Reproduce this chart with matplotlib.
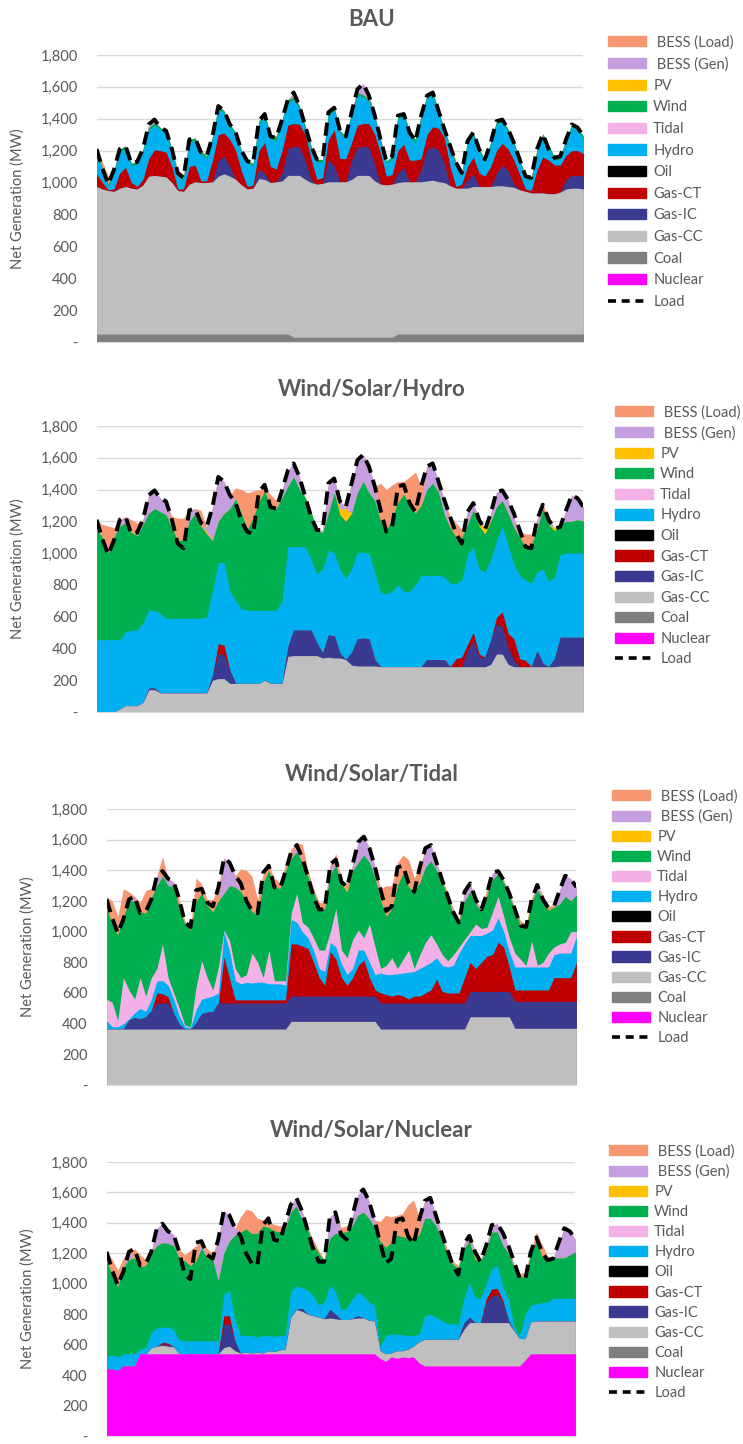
import numpy as np
import matplotlib
matplotlib.use("Agg")
import matplotlib.pyplot as plt
from matplotlib.patches import Patch
from matplotlib.lines import Line2D
from matplotlib.ticker import FuncFormatter

plt.rcParams['font.family'] = ['Lato', 'DejaVu Sans']

# hour of the two-week window, one value every 4 hours
HOURS = list(range(0, 337, 4))

LOAD = [1210, 1090, 990, 1080, 1210, 1230, 1120, 1130, 1210, 1365,
        1395, 1345, 1325, 1210, 1060, 1030, 1270, 1280, 1190, 1165,
        1290, 1480, 1450, 1365, 1315, 1200, 1135, 1120, 1385, 1430,
        1290, 1280, 1395, 1520, 1565, 1480, 1355, 1230, 1145, 1145,
        1440, 1470, 1325, 1290, 1440, 1585, 1620, 1545, 1420, 1270,
        1135, 1165, 1420, 1430, 1315, 1260, 1420, 1545, 1565, 1450,
        1335, 1230, 1125, 1060, 1260, 1315, 1210, 1145, 1250, 1385,
        1395, 1335, 1250, 1145, 1040, 1030, 1210, 1305, 1210, 1155,
        1165, 1270, 1365, 1345, 1290]

# ---------------- BAU ----------------
BAU_COAL = [50, 50, 50, 50, 50, 50, 50, 50, 50, 50,
            50, 50, 50, 50, 50, 50, 50, 50, 50, 50,
            50, 50, 50, 50, 50, 50, 50, 50, 50, 50,
            50, 50, 50, 50, 30, 30, 30, 30, 30, 30,
            30, 30, 30, 30, 30, 30, 30, 30, 30, 30,
            30, 30, 50, 50, 50, 50, 50, 50, 50, 50,
            50, 50, 50, 50, 50, 50, 50, 50, 50, 50,
            50, 50, 50, 50, 50, 50, 50, 50, 50, 50,
            50, 50, 50, 50, 50]
BAU_GAS_CC = [925, 910, 900, 895, 915, 925, 915, 910, 935, 990,
              995, 990, 985, 950, 900, 895, 940, 955, 950, 950,
              955, 990, 1005, 990, 970, 935, 910, 915, 975, 970,
              950, 955, 960, 995, 1015, 1015, 990, 970, 960, 965,
              975, 975, 975, 975, 990, 1015, 1015, 1015, 980, 960,
              955, 960, 950, 955, 955, 955, 955, 960, 965, 955,
              950, 930, 915, 915, 915, 925, 925, 925, 925, 930,
              930, 925, 920, 905, 895, 885, 885, 885, 880, 880,
              890, 910, 915, 915, 910]
BAU_GAS_IC = [0, 0, 0, 0, 0, 0, 0, 0, 0, 0,
              0, 0, 0, 0, 0, 0, 0, 0, 0, 0,
              0, 100, 110, 60, 0, 0, 0, 0, 60, 40,
              0, 0, 50, 170, 180, 180, 120, 20, 0, 0,
              140, 100, 0, 0, 120, 180, 180, 180, 100, 0,
              0, 0, 60, 90, 0, 0, 80, 200, 210, 200,
              120, 0, 0, 0, 50, 80, 0, 0, 0, 80,
              130, 100, 20, 0, 0, 0, 0, 0, 0, 0,
              0, 60, 80, 80, 80]
BAU_GAS_CT = [80, 40, 5, 15, 95, 120, 35, 15, 35, 110,
              160, 160, 155, 100, 10, 15, 110, 105, 10, 10,
              135, 160, 145, 170, 180, 85, 15, 20, 115, 190,
              100, 80, 140, 145, 145, 140, 160, 130, 30, 35,
              125, 225, 145, 145, 110, 135, 145, 145, 190, 190,
              55, 60, 140, 145, 135, 135, 65, 90, 125, 135,
              160, 120, 10, 25, 85, 105, 85, 65, 125, 140,
              135, 135, 150, 95, 15, 15, 145, 225, 210, 180,
              170, 150, 155, 155, 140]
BAU_HYDRO = [140, 75, 20, 105, 135, 120, 105, 140, 175, 180,
             155, 130, 120, 95, 85, 55, 155, 155, 175, 140,
             135, 165, 125, 80, 100, 115, 145, 120, 170, 165,
             175, 180, 180, 145, 150, 100, 40, 65, 110, 100,
             155, 125, 160, 125, 175, 190, 165, 140, 105, 75,
             80, 100, 205, 175, 160, 105, 255, 230, 200, 95,
             40, 115, 135, 55, 145, 140, 135, 90, 135, 170,
             135, 110, 95, 80, 65, 65, 115, 130, 80, 30,
             40, 85, 150, 130, 95]
BAU_WIND = [15, 15, 15, 15, 15, 15, 15, 15, 15, 15,
            15, 15, 15, 15, 15, 15, 15, 15, 15, 15,
            15, 15, 15, 15, 15, 15, 15, 15, 15, 15,
            25, 25, 15, 15, 15, 15, 15, 15, 15, 15,
            15, 15, 15, 15, 15, 15, 15, 15, 15, 15,
            15, 15, 15, 15, 25, 25, 15, 15, 15, 15,
            15, 15, 15, 15, 15, 15, 15, 15, 15, 15,
            15, 15, 15, 15, 15, 15, 15, 15, 15, 15,
            15, 15, 15, 15, 15]
BAU_BESS_GEN = [0, 0, 0, 0, 0, 0, 0, 0, 0, 20,
                20, 0, 0, 0, 0, 0, 0, 0, 0, 0,
                0, 0, 0, 0, 0, 0, 0, 0, 0, 0,
                0, 0, 0, 0, 30, 0, 0, 0, 0, 0,
                0, 0, 0, 0, 0, 20, 70, 20, 0, 0,
                0, 0, 0, 0, 0, 0, 0, 0, 0, 0,
                0, 0, 0, 0, 0, 0, 0, 0, 0, 0,
                0, 0, 0, 0, 0, 0, 0, 0, 0, 0,
                0, 0, 0, 0, 0]
BAU_BESS_LOAD = [0, 40, 50, 0, 0, 0, 0, 0, 0, 0,
                 0, 0, 0, 0, 20, 20, 0, 0, 0, 0,
                 0, 0, 0, 0, 0, 0, 15, 0, 0, 0,
                 0, 0, 0, 0, 0, 0, 0, 0, 0, 0,
                 0, 0, 0, 0, 0, 0, 0, 0, 0, 0,
                 0, 0, 0, 0, 0, 0, 0, 0, 0, 0,
                 0, 0, 15, 0, 0, 0, 0, 0, 0, 0,
                 0, 0, 0, 0, 0, 0, 0, 0, 0, 0,
                 0, 0, 0, 0, 0]

# ---------------- Wind/Solar/Hydro ----------------
WSH_GAS_CC = [0, 0, 0, 0, 20, 40, 40, 40, 60, 140,
              140, 120, 120, 120, 120, 120, 120, 120, 120, 120,
              200, 210, 210, 180, 180, 180, 180, 180, 180, 200,
              180, 180, 180, 350, 355, 355, 355, 355, 355, 340,
              345, 340, 340, 330, 295, 290, 290, 290, 290, 285,
              285, 285, 285, 285, 285, 285, 285, 285, 285, 285,
              285, 285, 285, 285, 285, 285, 285, 285, 300, 365,
              365, 300, 285, 285, 285, 285, 285, 285, 285, 285,
              290, 290, 290, 290, 290]
WSH_GAS_IC = [0, 0, 0, 0, 0, 0, 0, 0, 0, 10,
              10, 0, 0, 0, 0, 0, 0, 0, 0, 0,
              30, 160, 150, 80, 0, 0, 0, 0, 0, 0,
              0, 0, 0, 60, 160, 160, 160, 160, 80, 30,
              140, 140, 30, 0, 80, 170, 175, 170, 40, 0,
              0, 0, 0, 0, 0, 0, 0, 45, 45, 45,
              45, 0, 0, 0, 100, 165, 60, 60, 150, 190,
              170, 110, 40, 0, 0, 0, 100, 20, 0, 50,
              180, 180, 180, 180, 180]
WSH_GAS_CT = [0, 0, 0, 0, 0, 0, 0, 0, 0, 0,
              0, 0, 0, 0, 0, 0, 0, 0, 0, 0,
              0, 60, 60, 0, 0, 0, 0, 0, 0, 0,
              0, 0, 0, 0, 0, 0, 0, 0, 0, 0,
              0, 0, 0, 0, 0, 0, 0, 0, 0, 0,
              0, 0, 0, 0, 0, 0, 0, 0, 0, 0,
              0, 0, 50, 60, 40, 50, 20, 0, 0, 40,
              95, 85, 135, 50, 40, 0, 0, 0, 0, 0,
              0, 0, 0, 0, 0]
WSH_HYDRO = [455, 455, 455, 455, 435, 465, 475, 475, 500, 490,
             490, 500, 470, 470, 470, 470, 470, 470, 470, 480,
             530, 510, 520, 500, 520, 470, 460, 460, 460, 440,
             460, 460, 520, 630, 525, 525, 525, 445, 435, 530,
             535, 520, 530, 510, 525, 545, 540, 540, 550, 465,
             460, 475, 515, 475, 475, 515, 575, 530, 530, 530,
             520, 525, 475, 485, 565, 540, 535, 535, 510, 485,
             535, 555, 470, 525, 505, 525, 495, 595, 535, 515,
             520, 530, 530, 530, 530]
WSH_WIND = [695, 645, 545, 645, 715, 685, 615, 595, 620, 610,
            640, 640, 650, 570, 490, 490, 610, 660, 580, 520,
            320, 260, 310, 520, 640, 600, 510, 580, 680, 750,
            660, 640, 650, 380, 440, 360, 310, 300, 270, 230,
            230, 380, 340, 360, 350, 375, 445, 380, 450, 450,
            395, 470, 520, 610, 540, 450, 440, 540, 580, 520,
            390, 350, 290, 270, 190, 230, 270, 240, 240, 210,
            165, 200, 230, 240, 210, 240, 270, 380, 360, 290,
            190, 200, 200, 210, 200]
WSH_PV = [0, 0, 0, 0, 0, 0, 0, 0, 0, 0,
          0, 0, 0, 0, 0, 0, 0, 0, 0, 15,
          0, 0, 0, 0, 0, 0, 0, 0, 0, 0,
          0, 0, 0, 0, 0, 0, 0, 0, 0, 0,
          0, 0, 40, 80, 0, 0, 0, 0, 0, 0,
          0, 0, 0, 0, 0, 0, 0, 0, 0, 0,
          0, 0, 0, 0, 0, 0, 30, 30, 0, 0,
          0, 0, 0, 0, 0, 0, 0, 0, 0, 20,
          0, 0, 0, 0, 0]
WSH_BESS_GEN = [0, 0, 0, 0, 40, 40, 0, 0, 30, 115,
                115, 85, 85, 0, 0, 0, 70, 30, 0, 30,
                210, 280, 200, 85, 0, 0, 0, 0, 0, 0,
                0, 0, 45, 100, 85, 80, 0, 0, 0, 15,
                190, 90, 45, 10, 190, 205, 170, 165, 90, 0,
                0, 0, 0, 0, 0, 0, 0, 145, 125, 70,
                95, 0, 0, 0, 80, 45, 10, 0, 50, 95,
                65, 85, 60, 0, 0, 0, 60, 0, 30, 0,
                0, 70, 165, 135, 90]
WSH_BESS_LOAD = [60, 80, 170, 60, 0, 0, 80, 80, 0, 0,
                 0, 0, 0, 70, 140, 140, 0, 0, 100, 0,
                 0, 0, 0, 0, 70, 150, 230, 170, 80, 20,
                 70, 50, 0, 0, 0, 0, 0, 0, 0, 0,
                 0, 0, 0, 0, 0, 0, 0, 0, 0, 240,
                 260, 200, 130, 80, 180, 260, 120, 0, 0, 0,
                 0, 70, 90, 50, 0, 0, 0, 0, 0, 0,
                 0, 0, 0, 40, 80, 70, 0, 30, 0, 0,
                 0, 0, 0, 0, 0]

# ---------------- Wind/Solar/Tidal ----------------
WST_GAS_CC = [365, 365, 365, 365, 365, 365, 365, 365, 365, 365,
              365, 365, 365, 365, 365, 365, 365, 365, 365, 365,
              365, 365, 365, 365, 365, 365, 365, 365, 365, 365,
              365, 365, 365, 415, 415, 415, 415, 415, 415, 415,
              415, 415, 415, 415, 415, 415, 415, 415, 415, 365,
              365, 365, 365, 365, 365, 365, 365, 365, 365, 365,
              365, 365, 365, 365, 365, 445, 445, 445, 445, 445,
              445, 445, 445, 370, 370, 370, 370, 370, 370, 370,
              370, 370, 370, 370, 370]
WST_GAS_IC = [0, 0, 0, 0, 60, 75, 65, 80, 120, 170,
              170, 170, 100, 30, 0, 0, 40, 100, 110, 115,
              170, 170, 170, 170, 170, 170, 170, 170, 170, 170,
              170, 170, 170, 165, 165, 165, 165, 165, 165, 165,
              165, 165, 165, 165, 165, 165, 165, 165, 165, 170,
              170, 170, 170, 170, 170, 170, 170, 170, 170, 170,
              170, 170, 170, 170, 170, 165, 165, 165, 165, 165,
              165, 165, 165, 175, 175, 175, 175, 175, 175, 175,
              175, 175, 175, 175, 175]
WST_GAS_CT = [0, 0, 0, 0, 0, 0, 0, 0, 0, 65,
              60, 40, 0, 0, 0, 0, 0, 0, 0, 0,
              0, 300, 155, 20, 20, 20, 20, 20, 20, 20,
              20, 20, 20, 340, 340, 325, 310, 220, 120, 70,
              290, 240, 120, 70, 120, 200, 235, 120, 40, 65,
              55, 45, 55, 45, 25, 45, 45, 65, 85, 155,
              75, 65, 65, 65, 165, 190, 150, 190, 230, 240,
              320, 290, 160, 75, 75, 75, 75, 75, 75, 75,
              155, 155, 155, 155, 255]
WST_HYDRO = [55, 15, 15, 35, 5, 30, 70, 35, 75, 80,
             85, 75, 95, 55, 15, 10, 85, 95, 95, 100,
             65, 165, 180, 125, 105, 115, 110, 115, 115, 105,
             105, 105, 95, 160, 140, 95, 70, 80, 60, 90,
             60, 80, 90, 70, 60, 100, 65, 100, 100, 130,
             130, 140, 135, 150, 175, 160, 180, 180, 180, 140,
             170, 170, 180, 260, 220, 175, 215, 175, 150, 160,
             160, 100, 100, 150, 150, 150, 150, 150, 150, 150,
             150, 160, 160, 160, 170]
WST_TIDAL = [140, 160, 40, 300, 190, 90, 200, 100, 140, 80,
             240, 50, 40, 50, 10, 5, 150, 250, 130, 40,
             170, 10, 70, 80, 40, 50, 195, 130, 30, 220,
             20, 20, 30, 40, 190, 60, 70, 80, 120, 140,
             70, 250, 90, 110, 190, 130, 80, 250, 180, 30,
             60, 110, 35, 90, 145, 20, 90, 150, 180, 90,
             70, 40, 70, 40, 30, 25, 75, 45, 40, 120,
             140, 100, 90, 90, 50, 10, 170, 10, 30, 90,
             50, 60, 70, 140, 30]
WST_WIND = [590, 510, 560, 400, 580, 640, 430, 540, 520, 540,
            440, 600, 695, 650, 660, 630, 560, 440, 470, 510,
            430, 240, 360, 530, 560, 480, 270, 310, 620, 520,
            620, 600, 720, 360, 270, 390, 330, 300, 270, 270,
            380, 280, 430, 430, 450, 440, 540, 400, 450, 440,
            320, 320, 540, 560, 410, 500, 470, 490, 480, 480,
            470, 420, 260, 160, 250, 260, 130, 110, 210, 210,
            150, 220, 270, 280, 220, 240, 260, 490, 420, 280,
            260, 260, 300, 200, 240]
WST_PV = [0, 0, 0, 0, 0, 0, 0, 0, 0, 0,
          0, 0, 0, 0, 0, 0, 0, 0, 0, 0,
          0, 0, 0, 0, 0, 0, 0, 0, 0, 0,
          0, 0, 0, 0, 0, 0, 0, 0, 0, 0,
          0, 0, 0, 15, 0, 0, 0, 0, 0, 0,
          0, 0, 0, 0, 0, 0, 0, 0, 0, 0,
          0, 0, 0, 0, 0, 0, 0, 0, 0, 0,
          0, 0, 0, 0, 0, 0, 0, 0, 0, 0,
          0, 0, 0, 0, 0]
WST_BESS_GEN = [0, 0, 0, 0, 0, 30, 0, 0, 0, 65,
                0, 45, 30, 0, 0, 0, 0, 0, 0, 0,
                0, 230, 150, 75, 0, 0, 0, 0, 0, 0,
                0, 0, 0, 0, 60, 0, 0, 0, 0, 0,
                60, 0, 0, 0, 40, 135, 120, 95, 70, 0,
                0, 0, 0, 0, 0, 0, 0, 125, 105, 50,
                0, 0, 0, 0, 60, 55, 30, 0, 0, 45,
                15, 15, 20, 0, 0, 0, 0, 35, 0, 0,
                0, 90, 135, 145, 50]
WST_BESS_LOAD = [80, 150, 120, 180, 60, 0, 60, 150, 60, 0,
                 130, 0, 0, 60, 20, 20, 150, 60, 40, 80,
                 100, 0, 0, 0, 150, 200, 230, 100, 60, 30,
                 50, 40, 40, 60, 0, 120, 40, 20, 40, 40,
                 0, 80, 20, 40, 0, 0, 0, 0, 0, 80,
                 200, 150, 150, 120, 180, 90, 100, 0, 0, 0,
                 30, 20, 40, 20, 0, 0, 0, 20, 40, 0,
                 0, 0, 0, 20, 30, 30, 20, 0, 20, 20,
                 20, 0, 0, 0, 0]

# ---------------- Wind/Solar/Nuclear ----------------
WSN_NUCLEAR = [440, 440, 430, 460, 460, 460, 540, 540, 540, 540,
               540, 540, 540, 540, 540, 540, 540, 540, 540, 540,
               540, 540, 540, 540, 540, 540, 540, 540, 540, 540,
               540, 540, 540, 540, 540, 540, 540, 540, 540, 540,
               540, 540, 540, 540, 540, 540, 540, 540, 540, 510,
               490, 520, 510, 520, 515, 520, 480, 460, 460, 460,
               460, 460, 460, 460, 460, 460, 460, 460, 460, 460,
               460, 460, 460, 460, 460, 500, 540, 540, 540, 540,
               540, 540, 540, 540, 540]
WSN_GAS_CC = [0, 0, 0, 0, 0, 0, 0, 0, 40, 50,
              55, 50, 45, 0, 0, 0, 0, 0, 0, 0,
              0, 40, 50, 20, 5, 10, 5, 10, 5, 20,
              15, 25, 30, 240, 290, 280, 260, 250, 240, 230,
              235, 230, 225, 225, 230, 235, 235, 220, 215, 50,
              50, 25, 50, 40, 55, 70, 140, 175, 175, 175,
              175, 175, 175, 175, 240, 285, 285, 285, 285, 285,
              285, 285, 285, 230, 180, 140, 210, 215, 215, 215,
              215, 215, 215, 215, 215]
WSN_GAS_IC = [0, 0, 0, 0, 0, 0, 0, 0, 0, 0,
              10, 10, 0, 0, 0, 0, 0, 0, 0, 0,
              0, 150, 150, 60, 0, 0, 0, 0, 0, 0,
              0, 0, 0, 0, 0, 20, 0, 0, 0, 0,
              55, 30, 0, 0, 0, 15, 0, 0, 0, 0,
              0, 0, 0, 0, 0, 0, 0, 0, 0, 0,
              0, 0, 0, 0, 40, 35, 0, 0, 135, 175,
              185, 135, 15, 0, 0, 0, 0, 0, 0, 0,
              0, 0, 0, 0, 0]
WSN_GAS_CT = [0, 0, 0, 0, 0, 0, 0, 0, 0, 0,
              10, 10, 0, 0, 0, 0, 0, 0, 0, 0,
              0, 60, 50, 0, 0, 0, 0, 0, 0, 0,
              0, 0, 0, 0, 0, 0, 0, 0, 0, 0,
              0, 0, 0, 0, 0, 0, 0, 0, 0, 0,
              0, 0, 0, 0, 0, 0, 0, 0, 0, 0,
              0, 0, 0, 0, 0, 0, 0, 0, 20, 45,
              40, 10, 0, 0, 0, 0, 0, 0, 0, 0,
              0, 0, 0, 0, 0]
WSN_HYDRO = [85, 90, 90, 80, 80, 80, 30, 40, 100, 120,
             100, 105, 115, 90, 85, 85, 85, 85, 85, 85,
             85, 140, 170, 140, 115, 110, 115, 100, 115, 100,
             100, 95, 90, 170, 155, 135, 160, 130, 80, 110,
             160, 150, 65, 75, 130, 155, 145, 120, 105, 30,
             120, 125, 110, 105, 90, 70, 50, 155, 165, 145,
             125, 105, 100, 100, 160, 230, 165, 160, 100, 135,
             150, 90, 140, 30, 20, 160, 110, 115, 120, 125,
             150, 150, 150, 150, 150]
WSN_WIND = [625, 530, 460, 570, 620, 630, 540, 540, 520, 540,
            555, 550, 550, 540, 525, 495, 525, 610, 545, 535,
            395, 270, 320, 560, 680, 700, 670, 680, 720, 710,
            695, 680, 700, 520, 525, 445, 400, 340, 340, 270,
            310, 380, 510, 500, 480, 505, 550, 550, 510, 690,
            580, 600, 650, 645, 640, 640, 650, 640, 630, 600,
            540, 460, 395, 365, 330, 270, 250, 245, 220, 240,
            220, 270, 300, 390, 390, 240, 340, 410, 305, 280,
            265, 265, 265, 285, 305]
WSN_PV = [0, 0, 0, 0, 0, 10, 0, 0, 0, 0,
          0, 0, 0, 0, 0, 0, 0, 0, 0, 0,
          0, 0, 0, 0, 0, 0, 0, 0, 0, 0,
          0, 0, 0, 0, 0, 0, 0, 0, 0, 0,
          0, 0, 0, 0, 0, 0, 0, 0, 0, 0,
          0, 0, 0, 0, 0, 0, 0, 0, 0, 0,
          0, 0, 0, 0, 0, 0, 10, 0, 0, 0,
          0, 0, 0, 0, 0, 0, 0, 0, 0, 0,
          0, 0, 0, 0, 0]
WSN_BESS_GEN = [0, 0, 0, 0, 50, 0, 0, 0, 10, 115,
                125, 80, 75, 0, 0, 0, 0, 45, 0, 0,
                270, 280, 170, 45, 0, 0, 0, 0, 0, 0,
                0, 0, 30, 50, 55, 60, 0, 0, 0, 0,
                140, 140, 0, 0, 60, 135, 150, 115, 50, 0,
                0, 0, 0, 0, 0, 0, 0, 115, 135, 70,
                35, 0, 0, 0, 30, 35, 50, 0, 30, 45,
                55, 85, 50, 0, 0, 0, 0, 0, 0, 0,
                0, 100, 195, 155, 80]
WSN_BESS_LOAD = [60, 100, 110, 60, 0, 50, 80, 40, 0, 0,
                 0, 0, 0, 60, 40, 100, 100, 0, 60, 40,
                 0, 0, 0, 0, 100, 130, 150, 100, 40, 40,
                 40, 40, 0, 0, 0, 0, 10, 30, 20, 10,
                 0, 0, 30, 40, 0, 0, 0, 0, 0, 130,
                 210, 170, 130, 150, 220, 250, 120, 0, 0, 0,
                 0, 30, 20, 20, 0, 0, 0, 10, 0, 0,
                 0, 0, 0, 20, 20, 30, 20, 60, 80, 20,
                 0, 0, 0, 0, 0]

# stacking order, bottom to top
ORDER = ['Nuclear', 'Coal', 'Gas-CC', 'Gas-IC', 'Gas-CT', 'Oil',
         'Hydro', 'Tidal', 'Wind', 'PV', 'BESS (Gen)', 'BESS (Load)']
COLORS = {'Nuclear': '#FF00FF', 'Coal': '#7F7F7F', 'Gas-CC': '#BFBFBF',
          'Gas-IC': '#3A3A90', 'Gas-CT': '#C00000', 'Oil': '#000000',
          'Hydro': '#00B0F0', 'Tidal': '#F4B1E8', 'Wind': '#00B050',
          'PV': '#FFC000', 'BESS (Gen)': '#C49EDF', 'BESS (Load)': '#F79772'}
GREY = '#595959'

panels = [
    ('BAU', {'Coal': BAU_COAL, 'Gas-CC': BAU_GAS_CC, 'Gas-IC': BAU_GAS_IC,
             'Gas-CT': BAU_GAS_CT, 'Hydro': BAU_HYDRO, 'Wind': BAU_WIND,
             'BESS (Gen)': BAU_BESS_GEN, 'BESS (Load)': BAU_BESS_LOAD}),
    ('Wind/Solar/Hydro', {'Gas-CC': WSH_GAS_CC, 'Gas-IC': WSH_GAS_IC,
             'Gas-CT': WSH_GAS_CT, 'Hydro': WSH_HYDRO, 'Wind': WSH_WIND,
             'PV': WSH_PV, 'BESS (Gen)': WSH_BESS_GEN, 'BESS (Load)': WSH_BESS_LOAD}),
    ('Wind/Solar/Tidal', {'Gas-CC': WST_GAS_CC, 'Gas-IC': WST_GAS_IC,
             'Gas-CT': WST_GAS_CT, 'Hydro': WST_HYDRO, 'Tidal': WST_TIDAL,
             'Wind': WST_WIND, 'PV': WST_PV, 'BESS (Gen)': WST_BESS_GEN,
             'BESS (Load)': WST_BESS_LOAD}),
    ('Wind/Solar/Nuclear', {'Nuclear': WSN_NUCLEAR, 'Gas-CC': WSN_GAS_CC,
             'Gas-IC': WSN_GAS_IC, 'Gas-CT': WSN_GAS_CT, 'Hydro': WSN_HYDRO,
             'Wind': WSN_WIND, 'PV': WSN_PV, 'BESS (Gen)': WSN_BESS_GEN,
             'BESS (Load)': WSN_BESS_LOAD}),
]

# layout in pixels: (left, right, top of 1800, bottom at 0, title y, ylabel x,
#                    legend x, legend first row y, legend row spacing)
W, H = 743, 1444
layout = [
    (97, 583, 55, 342, 19, 18, 608, 43, 0.52),
    (97, 583, 426, 712, 390, 18, 615, 413, 0.45),
    (107, 576, 809, 1085, 774, 28, 612, 797, 0.42),
    (107, 575, 1162, 1436, 1130, 28, 609, 1152, 0.42),
]

fig = plt.figure(figsize=(W / 100, H / 100), dpi=100)

for (title, layers), (x0, x1, ytop, ybot, ty, lx, legx, legy, lsp) in zip(panels, layout):
    ax = fig.add_axes([x0 / W, 1 - ybot / H, (x1 - x0) / W, (ybot - ytop) / H])
    names = [n for n in ORDER if n in layers]
    tops = np.cumsum([layers[n] for n in names], axis=0)
    # paint from the top layer down so that stacked areas have no seams
    for n, top in reversed(list(zip(names, tops))):
        ax.fill_between(HOURS, 0, top, color=COLORS[n], lw=0)
    ax.plot(HOURS, LOAD, color='black', lw=2.8, linestyle=(0, (3.4, 1.9)),
            solid_capstyle='butt', dash_capstyle='butt')

    # trim a hair off both ends so the area edges do not leave a fringe
    ax.set_xlim(0.3, 335.7)
    ax.set_ylim(0, 1800)
    ax.set_yticks(range(0, 1801, 200))
    ax.yaxis.set_major_formatter(FuncFormatter(lambda v, _: '-' if v == 0 else f'{int(v):,}'))
    ax.tick_params(axis='y', length=0, pad=14, labelsize=10.5, labelcolor=GREY)
    ax.set_xticks([])
    ax.yaxis.grid(True, color='#D9D9D9', lw=1)
    ax.set_axisbelow(True)
    for s in ['top', 'right', 'left']:
        ax.spines[s].set_visible(False)
    ax.spines['bottom'].set_color('#D9D9D9')

    fig.text(0.5, 1 - ty / H, title, ha='center', va='center',
             fontsize=16, fontweight='bold', color=GREY)
    fig.text(lx / W, 1 - (ytop + ybot) / 2 / H, 'Net Generation (MW)', rotation=90,
             ha='center', va='center', fontsize=10.5, color=GREY)

    handles = [Patch(color=COLORS[n]) for n in ORDER[::-1]]
    handles.append(Line2D([], [], color='black', lw=2.6, linestyle=(0, (2.2, 1.6))))
    labels = [' ' + n if n.startswith('BESS') else n for n in ORDER[::-1]] + ['Load']
    ax.legend(handles, labels, loc='upper left',
              bbox_to_anchor=(legx / W, 1 - (legy - 8) / H),
              bbox_transform=fig.transFigure, frameon=False, fontsize=10.5,
              labelcolor=GREY, handlelength=2.6, handleheight=0.7,
              handletextpad=0.5, labelspacing=lsp, borderpad=0, borderaxespad=0)

fig.savefig('out.png', dpi=100)
